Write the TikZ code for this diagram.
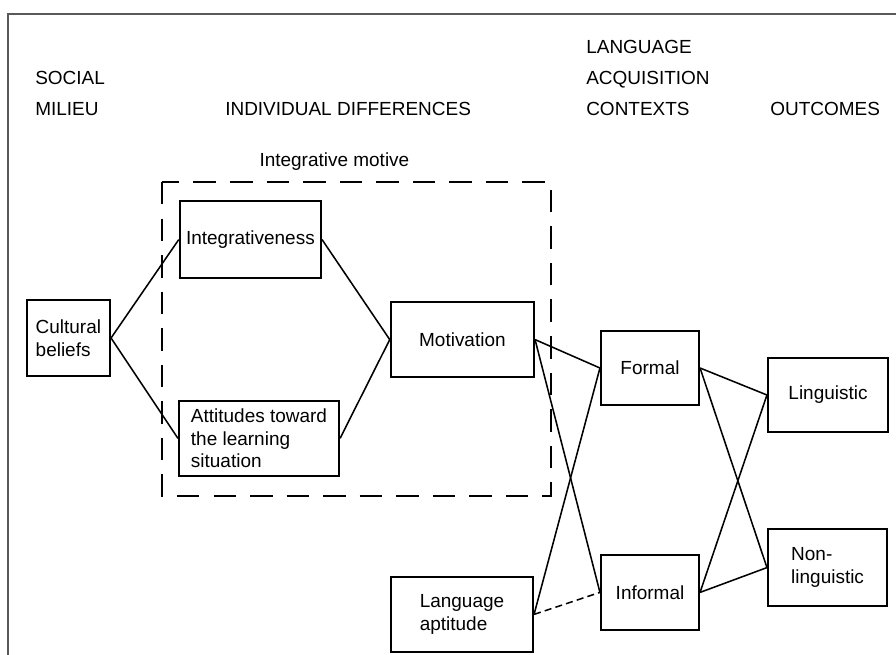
\documentclass[tikz,border=0pt]{standalone}
\usepackage{fontspec}
\setmainfont{Liberation Sans}
\usepackage{tikz}
\usetikzlibrary{positioning,calc}

\begin{document}
\begin{tikzpicture}[
        box/.style={draw, line width=1.5pt, align=left, inner sep=2pt,
            font=\fontsize{13.5}{16}\selectfont},
        head/.style={anchor=south west, inner sep=0pt, align=left,
            font=\fontsize{13.5}{22}\selectfont},
        link/.style={line width=1.1pt},
        weak/.style={line width=1.1pt, dash pattern=on 5pt off 3pt}
    ]
        \useasboundingbox (0,0) rectangle (22.4,-16.375);

        % Frame of the scanned page
        \draw[line width=0.9pt, black!65] (0.2,-16.375) -- (0.2,-0.35) -- (22.4,-0.35);

        % Column headings
        \node[head] (hsocial) at (0.875,-2.9) {SOCIAL\\MILIEU};
        \node[head] (hindiv) at (5.625,-2.9) {INDIVIDUAL DIFFERENCES};
        \node[head] (hcontext) at (14.65,-2.9) {LANGUAGE\\ACQUISITION\\CONTEXTS};
        \node[head] (houtcome) at (19.25,-2.9) {OUTCOMES};

        % Integrative motive region
        \draw[line width=1.3pt, dash pattern=on 16pt off 10pt] (4.05,-4.55) rectangle (13.78,-12.4);
        \node[font=\fontsize{13.5}{16}\selectfont] (motive) at (8.36,-4.05) {Integrative motive};

        % Boxes
        \node[box, minimum width=2.08cm, minimum height=1.9cm] (cult) at (1.71,-8.45) {Cultural\\beliefs};
        \node[box, minimum width=3.53cm, minimum height=1.93cm] (integ) at (6.26,-5.99) {Integrativeness};
        \node[box, minimum width=4.0cm, minimum height=1.88cm] (attit) at (6.475,-10.96) {Attitudes toward\\the learning\\situation};
        \node[box, minimum width=3.58cm, minimum height=1.88cm] (motiv) at (11.56,-8.49) {Motivation};
        \node[box, minimum width=3.55cm, minimum height=1.88cm] (aptit) at (11.55,-15.36) {Language\\aptitude};
        \node[box, minimum width=2.45cm, minimum height=1.85cm] (formal) at (16.25,-9.2) {Formal};
        \node[box, minimum width=2.45cm, minimum height=1.88cm] (informal) at (16.25,-14.81) {Informal};
        \node[box, minimum width=3.0cm, minimum height=1.85cm] (ling) at (20.7,-9.875) {Linguistic};
        \node[box, minimum width=2.98cm, minimum height=1.93cm] (nonling) at (20.69,-14.19) {Non-\\linguistic};

        % Connectors
        \draw[link] (cult.east) -- (integ.west);
        \draw[link] (cult.east) -- (attit.west);
        \draw[link] (integ.east) -- (motiv.west);
        \draw[link] (attit.east) -- (motiv.west);
        \draw[link] (motiv.east) -- (formal.west);
        \draw[link] (motiv.east) -- (informal.west);
        \draw[link] (aptit.east) -- (formal.west);
        \draw[weak] (aptit.east) -- (informal.west);
        \draw[link] (formal.east) -- (ling.west);
        \draw[link] (formal.east) -- (nonling.west);
        \draw[link] (informal.east) -- (ling.west);
        \draw[link] (informal.east) -- (nonling.west);
    \end{tikzpicture}
\end{document}
